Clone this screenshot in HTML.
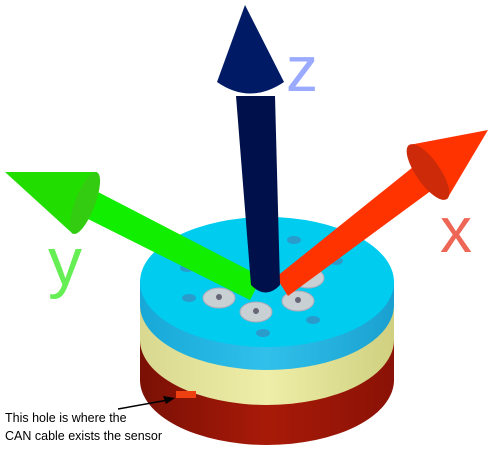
<!DOCTYPE html>
<html><head><meta charset="utf-8"><style>html,body{margin:0;padding:0;background:#fff}svg{display:block}</style></head>
<body>
<svg width="500" height="452" viewBox="0 0 500 452" xmlns="http://www.w3.org/2000/svg">
<defs>
<linearGradient id="red" x1="0" x2="1"><stop offset="0" stop-color="#7a1005"/><stop offset="0.5" stop-color="#a81a08"/><stop offset="1" stop-color="#8a1206"/></linearGradient>
<linearGradient id="yel" x1="0" x2="1"><stop offset="0" stop-color="#d8d890"/><stop offset="0.5" stop-color="#eeeea8"/><stop offset="1" stop-color="#d0d080"/></linearGradient>
<linearGradient id="blu" x1="0" x2="1"><stop offset="0" stop-color="#18a8d8"/><stop offset="0.5" stop-color="#30c0ea"/><stop offset="1" stop-color="#1aa0d0"/></linearGradient>
</defs>
<g>
<path d="M140 335 L140 380 A127 65 0 0 0 394 380 L394 335 Z" fill="url(#red)"/>
<path d="M140 300 L140 340 A127 65 0 0 0 394 340 L394 300 Z" fill="url(#yel)"/>
<path d="M140 282 L140 305 A127 65 0 0 0 394 305 L394 282 Z" fill="url(#blu)"/>
<ellipse cx="267" cy="282" rx="127" ry="65" fill="#00ccf0"/>
<g fill="#2a9ccc">
<ellipse cx="187" cy="268" rx="7" ry="4"/><ellipse cx="189" cy="298" rx="7" ry="4"/><ellipse cx="263" cy="333" rx="7" ry="4"/>
<ellipse cx="313" cy="320" rx="7" ry="4"/><ellipse cx="336" cy="261" rx="7" ry="4"/><ellipse cx="294" cy="240" rx="7" ry="4"/>
</g>
<g fill="#c8d0d4" stroke="#aab" stroke-width="1">
<ellipse cx="219" cy="298" rx="16" ry="10"/><ellipse cx="256" cy="312" rx="16" ry="10"/><ellipse cx="298" cy="301" rx="16" ry="10"/><ellipse cx="308" cy="278" rx="16" ry="10"/>
</g>
<g fill="#667"><circle cx="219" cy="297" r="3"/><circle cx="256" cy="311" r="3"/><circle cx="298" cy="300" r="3"/><circle cx="308" cy="277" r="3"/></g>
<rect x="176" y="391" width="20" height="7" fill="#ee4010"/>
</g>
<g>
<path d="M98 192 L262 277 L250 300 L86 218 Z" fill="#11ee00"/>
<path d="M5 172 L97 172 L73 234 Z" fill="#22dd00"/>
<ellipse cx="85" cy="203" rx="10" ry="33" transform="rotate(21 85 203)" fill="#33cc11"/>
</g>
<g>
<path d="M418 163 L276 277 L288 296 L432 190 Z" fill="#ff3300"/>
<path d="M488 130 L409 145 L447 199 Z" fill="#ff3300"/>
<ellipse cx="428" cy="172" rx="12" ry="33" transform="rotate(-35 428 172)" fill="#cc2a08"/>
</g>
<g>
<path d="M236 96 L275 96 L280 285 Q266 300 251 285 Z" fill="#00104a"/>
<path d="M245 5 L284 82 Q250 105 217 82 Z" fill="#001a66"/>
</g>
<text x="286" y="91" font-family="Liberation Sans, sans-serif" font-size="64" fill="#99aaff">z</text>
<text x="48" y="285" font-family="Liberation Sans, sans-serif" font-size="68" fill="#66ee55">y</text>
<text x="440" y="252" font-family="Liberation Sans, sans-serif" font-size="64" fill="#ee6655">x</text>
<g>
<line x1="118" y1="409" x2="168" y2="400" stroke="#000" stroke-width="1.5"/>
<path d="M175 398 L163 396 L166 404 Z" fill="#000"/>
<text x="5" y="422" font-family="Liberation Sans, sans-serif" font-size="12.5" fill="#000">This hole is where the</text>
<text x="5" y="440" font-family="Liberation Sans, sans-serif" font-size="12.5" fill="#000">CAN cable exists the sensor</text>
</g>
</svg>
</body></html>
